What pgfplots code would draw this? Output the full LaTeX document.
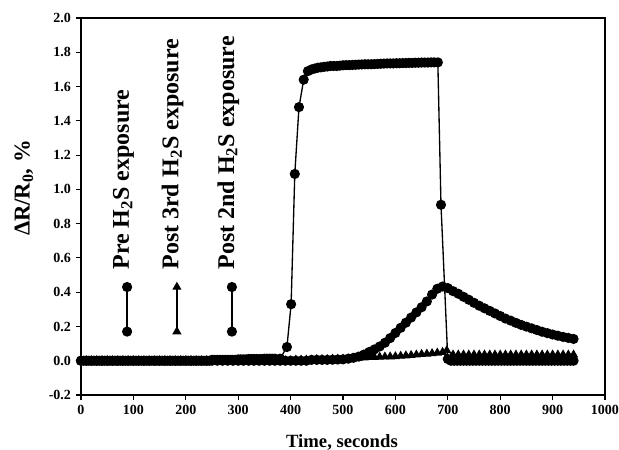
\documentclass[border=0pt]{standalone}
\usepackage{fontspec}
\setmainfont{Liberation Serif}
\usepackage{pgfplots}
\pgfplotsset{compat=1.18}
\begin{document}
\begin{tikzpicture}
\useasboundingbox (-60.75pt,-41.25pt) rectangle (403.5pt,296.25pt);
\begin{axis}[
  at={(0,0)}, anchor=south west,
  scale only axis, width=393pt, height=282.75pt,
  xmin=0, xmax=1000, ymin=-0.2, ymax=2.0,
  xtick={0,100,...,1000},
  ytick={-0.2,0,0.2,0.4,0.6,0.8,1.0,1.2,1.4,1.6,1.8,2.0},
  yticklabel style={/pgf/number format/.cd,fixed,fixed zerofill,precision=1},
  xticklabel style={/pgf/number format/.cd,fixed,1000 sep={}},
  /pgf/number format/assume math mode=true,
  ticklabel style={font=\fontsize{10.5}{12}\selectfont\bfseries},
  tick align=outside, xtick pos=bottom, ytick pos=left,
  major tick length=4pt,
  axis line style={line width=1pt},
  every tick/.style={black, line width=0.8pt},
  xlabel={\textbf{Time, seconds}},
  xlabel style={font=\fontsize{14}{16}\selectfont, at={(axis description cs:0.498,-0.125)}, anchor=center},
  ylabel={\textbf{ΔR/R\textsubscript{0}, \%}},
  ylabel style={font=\fontsize{17}{19}\selectfont, at={(axis description cs:-0.109,0.549)}, anchor=center},
  clip=false,
]
% Pre H2S exposure
\addplot[black, line width=1pt, mark=*, mark size=3.3pt] table {
0 0.00
5 0.00
10 0.00
15 0.00
20 0.00
25 0.00
30 0.00
35 0.00
40 0.00
45 0.00
50 0.00
55 0.00
60 0.00
65 0.00
70 0.00
75 0.00
80 0.00
85 0.00
90 0.00
95 0.00
100 0.00
105 0.00
110 0.00
115 0.00
120 0.00
125 0.00
130 0.00
135 0.00
140 0.00
145 0.00
150 0.00
155 0.00
160 0.00
165 0.00
170 0.00
175 0.00
180 0.00
185 0.00
190 0.00
195 0.00
200 0.00
205 0.00
210 0.00
215 0.00
220 0.00
225 0.00
230 0.00
235 0.00
240 0.00
245 0.00
250 0.005
255 0.005
260 0.005
265 0.005
270 0.005
275 0.005
280 0.005
285 0.005
290 0.005
295 0.005
300 0.008
305 0.008
310 0.008
315 0.008
320 0.01
325 0.01
330 0.01
335 0.01
340 0.01
345 0.01
350 0.012
355 0.012
360 0.012
365 0.012
370 0.012
380 0.012
393 0.08
401 0.33
408 1.09
416 1.48
425 1.64
433 1.69
440 1.70
446 1.705
452 1.71
458 1.712
464 1.715
470 1.717
476 1.72
482 1.72
488 1.72
494 1.722
500 1.724
506 1.725
512 1.725
518 1.726
524 1.727
530 1.728
536 1.729
542 1.73
548 1.73
554 1.73
560 1.731
566 1.732
572 1.733
578 1.734
584 1.735
590 1.735
596 1.735
602 1.736
608 1.736
614 1.737
620 1.737
626 1.738
632 1.738
638 1.739
644 1.739
650 1.74
656 1.74
662 1.74
668 1.741
674 1.741
681 1.741
687 0.91
700 0.01
706 0.00
712 0.00
718 0.00
724 0.00
730 0.00
736 0.00
742 0.00
748 0.00
754 0.00
760 0.00
766 0.00
772 0.00
778 0.00
784 0.00
790 0.00
796 0.00
802 0.00
808 0.00
814 0.00
820 0.00
826 0.00
832 0.00
838 0.00
844 0.00
850 0.00
856 0.00
862 0.00
868 0.00
874 0.00
880 0.00
886 0.00
892 0.00
898 0.00
904 0.00
910 0.00
916 0.00
922 0.00
928 0.00
934 0.00
940 0.00
};
% Post 3rd H2S exposure
\addplot[black, line width=1pt, mark=triangle*, mark size=3pt] table {
0 0.00
10 0.00
20 0.00
30 0.00
40 0.00
50 0.00
60 0.00
70 0.00
80 0.00
90 0.00
100 0.00
110 0.00
120 0.00
130 0.00
140 0.00
150 0.00
160 0.00
170 0.00
180 0.00
190 0.00
200 0.00
210 0.00
220 0.00
230 0.00
240 0.00
250 0.00
260 0.00
270 0.00
280 0.00
290 0.00
300 0.00
310 0.00
320 0.00
330 0.00
340 0.00
350 0.00
360 0.00
370 0.00
380 0.00
390 0.00
400 0.00
410 0.005
420 0.005
430 0.005
440 0.005
450 0.008
460 0.008
470 0.008
480 0.01
490 0.01
500 0.01
510 0.012
520 0.014
530 0.016
540 0.018
550 0.02
560 0.021
570 0.022
580 0.023
590 0.024
600 0.025
610 0.028
620 0.03
630 0.032
640 0.035
650 0.038
660 0.04
670 0.043
680 0.046
690 0.05
698 0.06
710 0.035
720 0.035
730 0.035
740 0.035
750 0.035
760 0.035
770 0.035
780 0.035
790 0.035
800 0.035
810 0.035
820 0.035
830 0.035
840 0.035
850 0.035
860 0.035
870 0.035
880 0.035
890 0.035
900 0.035
910 0.035
920 0.035
930 0.035
940 0.035
};
% Post 2nd H2S exposure
\addplot[black, line width=1pt, mark=*, mark size=3.3pt] table {
0 0.00
10 0.00
20 0.00
30 0.00
40 0.00
50 0.00
60 0.00
70 0.00
80 0.00
90 0.00
100 0.00
110 0.00
120 0.00
130 0.00
140 0.00
150 0.00
160 0.00
170 0.00
180 0.00
190 0.00
200 0.00
210 0.00
220 0.00
230 0.00
240 0.00
250 0.00
260 0.00
270 0.00
280 0.00
290 0.00
300 0.00
310 0.00
320 0.00
330 0.00
340 0.00
350 0.00
360 0.00
370 0.00
380 0.00
390 0.00
400 0.00
410 0.00
420 0.00
430 0.00
440 0.005
450 0.005
460 0.005
470 0.005
480 0.006
490 0.007
500 0.008
510 0.012
520 0.017
530 0.024
540 0.036
550 0.051
560 0.066
570 0.083
580 0.105
590 0.132
600 0.162
610 0.192
620 0.222
630 0.252
640 0.282
650 0.312
660 0.346
670 0.386
680 0.42
690 0.433
700 0.424
710 0.406
720 0.391
730 0.373
740 0.356
750 0.338
760 0.321
770 0.306
780 0.291
790 0.276
800 0.261
810 0.246
820 0.234
830 0.221
840 0.209
850 0.199
860 0.189
870 0.179
880 0.169
890 0.161
900 0.153
910 0.146
920 0.139
930 0.133
940 0.127
};
% legend keys (drawn inside the plot, rotated as in the original)
\addplot[black, line width=1pt, mark=*, mark size=3.3pt] coordinates {(88,0.17) (88,0.43)};
\addplot[black, line width=1pt, mark=triangle*, mark size=3pt] coordinates {(183,0.17) (183,0.43)};
\addplot[black, line width=1pt, mark=*, mark size=3.3pt] coordinates {(288,0.17) (288,0.43)};
\node[rotate=90, anchor=west, inner sep=0pt, font=\fontsize{18}{20}\selectfont\bfseries] at (axis cs:81,0.53) {Pre H\textsubscript{2}S exposure};
\node[rotate=90, anchor=west, inner sep=0pt, font=\fontsize{18}{20}\selectfont\bfseries] at (axis cs:175,0.53) {Post 3rd H\textsubscript{2}S exposure};
\node[rotate=90, anchor=west, inner sep=0pt, font=\fontsize{18}{20}\selectfont\bfseries] at (axis cs:281,0.53) {Post 2nd H\textsubscript{2}S exposure};
\end{axis}
\end{tikzpicture}
\end{document}
